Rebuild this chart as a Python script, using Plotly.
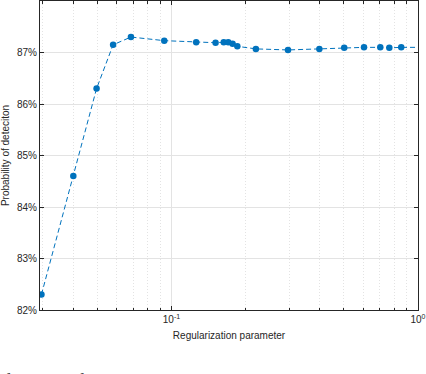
import plotly.graph_objects as go
import numpy as np

# regularization parameter values and detection probability (%)
reg_param = [0.0297, 0.04, 0.0497, 0.058, 0.0685, 0.0935, 0.126, 0.151, 0.163, 0.170,
             0.177, 0.185, 0.220, 0.297, 0.398, 0.502, 0.604, 0.703, 0.765, 0.855, 1.08]
prob_detect = [82.30, 84.60, 86.30, 87.15, 87.30, 87.23, 87.20, 87.19, 87.20, 87.20,
               87.17, 87.12, 87.07, 87.05, 87.07, 87.09, 87.10, 87.10, 87.09, 87.10, 87.10]

y_ticks = [82, 83, 84, 85, 86, 87]
y_ticktext = ["82%", "83%", "84%", "85%", "86%", "87%"]
x_ticks = [0.1, 1]
x_ticktext = ["10<sup>-1</sup>", "10<sup>0</sup>"]
x_minor = [0.03, 0.04, 0.05, 0.06, 0.07, 0.08, 0.09, 0.2, 0.3, 0.4, 0.5, 0.6, 0.7, 0.8, 0.9]

caption = "function of the regularization"

blue = "#0072BD"

fig = go.Figure()
fig.add_trace(go.Scatter(x=reg_param, y=prob_detect, mode="lines+markers",
                         line=dict(color=blue, width=1, dash="5px,3px"),
                         marker=dict(color=blue, size=6.5),
                         cliponaxis=True, showlegend=False))

fig.update_layout(
    width=426, height=374,
    margin=dict(l=40, r=8, t=1, b=64),
    paper_bgcolor="white", plot_bgcolor="white",
    font=dict(family="Liberation Sans, Arial", size=10, color="#262626"),
)

fig.update_xaxes(type="log", range=[np.log10(0.0293), 0], automargin=False,
                 tickvals=x_ticks, ticktext=x_ticktext,
                 showline=True, linecolor="#262626", linewidth=1, mirror="allticks",
                 ticks="inside", ticklen=4, tickcolor="#262626",
                 showgrid=True, gridcolor="#e3e3e3", gridwidth=1,
                 minor=dict(tickvals=x_minor, ticks="inside", ticklen=2.5, tickcolor="#262626",
                            showgrid=True, gridcolor="#e3e3e3", gridwidth=1, griddash="1px,2px"),
                 zeroline=False,
                 title=dict(text="Regularization parameter", standoff=7, font=dict(size=10)))

fig.update_yaxes(range=[82, 88], tickvals=y_ticks, ticktext=y_ticktext, automargin=False,
                 showline=True, linecolor="#262626", linewidth=1, mirror="allticks",
                 ticks="inside", ticklen=4, tickcolor="#262626",
                 showgrid=True, gridcolor="#e3e3e3", gridwidth=1, zeroline=False,
                 title=dict(text="Probability of deteciton", standoff=10, font=dict(size=10)))

fig.add_annotation(text=caption, xref="paper", yref="paper", x=-0.1, y=-0.19,
                   xanchor="left", yanchor="top", showarrow=False,
                   font=dict(family="Liberation Serif", size=18, color="black"))

# drop the page's default body margin so the figure sits at the window corner
fig.write_html("out.html", config={"displayModeBar": False},
               post_script="document.body.style.margin='0';")
